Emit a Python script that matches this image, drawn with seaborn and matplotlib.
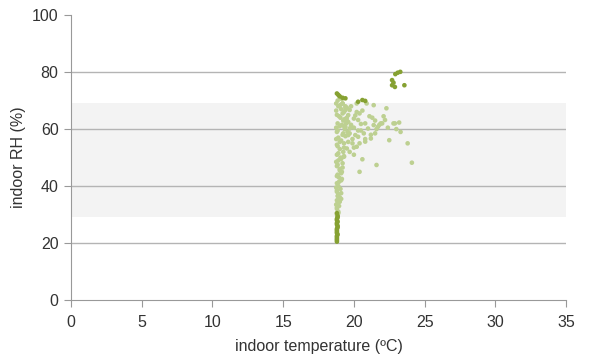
import matplotlib
matplotlib.use("Agg")
import matplotlib.pyplot as plt
import seaborn as sns
import pandas as pd

# ---- data ----
light_temp = [18.8, 18.9, 18.8, 18.95, 18.85, 18.8, 19.0, 18.9, 18.8, 19.05, 18.9, 18.8, 19.1, 18.95,
              18.85, 19.15, 19.0, 18.8, 19.2, 18.9, 19.05, 18.8, 19.25, 19.0, 18.85, 19.3, 19.1, 18.9,
              19.2, 18.8, 19.35, 19.0, 18.85, 19.25, 19.05, 18.8, 19.3, 19.1, 18.9, 19.2, 18.85, 19.0,
              18.75, 19.1, 18.75, 19.1, 18.75, 19.3, 18.75, 19.4, 18.75, 19.45, 18.75, 19.4, 18.75, 19.15,
              18.9, 18.8, 19.0, 18.85, 19.1, 18.8, 18.95, 19.15, 18.8, 19.0, 19.2, 18.85, 19.1, 18.9,
              19.3, 18.8, 19.0, 19.25, 18.85, 19.15, 19.35, 18.95, 19.2, 19.4, 19.05, 19.3, 19.5, 19.55,
              19.4, 19.7, 20.1, 20.3, 19.9, 20.2, 20.8, 21.2, 21.5, 21.7, 22.0, 22.9, 23.3, 22.5, 23.8,
              24.1, 21.6, 20.6, 20.4, 19.5, 19.3, 19.6, 20.7, 21.0, 21.4,
              19.4, 20.2, 20.9, 21.4, 22.3, 19.6, 20.0, 20.3, 20.8, 22.2, 22.8, 23.2, 19.2, 19.7,
              20.0, 20.4, 20.8, 21.2, 21.6, 21.9, 19.5, 19.8, 20.5, 21.1,
              19.6, 19.8, 20.0, 20.2, 19.7, 19.9, 20.1, 20.4, 20.6, 19.6, 19.8, 20.3, 20.5, 21.3,
              21.5, 21.8, 22.1, 22.4, 23.0, 19.5, 19.7, 20.0]
light_rh = [30, 31, 32, 33, 34, 35, 36, 37, 38, 39, 40, 41, 42, 43,
            44, 45, 46, 47, 48, 49, 50, 51, 52, 53, 54, 55, 56, 57,
            58, 59, 60, 61, 62, 63, 64, 65, 66, 67, 68, 69, 70, 71,
            33.5, 35.5, 39.5, 44.5, 48.5, 50.5, 56.5, 57.5, 60.5, 62, 66.5, 68, 69, 70.5,
            30.5, 32.5, 34.5, 36.5, 37.5, 38.5, 41.5, 42.5, 43.5, 45.5, 46.5, 47.5, 49.5, 51.5,
            53.5, 54.5, 55.5, 58.5, 59.5, 61.5, 63.5, 64.5, 65.5, 67.5, 68.5, 61.0, 63.0, 59.0,
            60.8, 60.2, 57.9, 57.3, 55.0, 53.8, 55.6, 56.7, 58.5, 60.8, 62.0, 62.0, 59.0, 56.1, 55.0,
            48.2, 47.4, 49.4, 45.0, 53.2, 50.3, 57.9, 58.5, 60.2, 61.4,
            66.7, 69.0, 69.0, 68.4, 67.3, 64.9, 63.7, 63.2, 62.0, 63.2, 62.0, 62.3, 69.0, 66.7,
            53.5, 55.0, 56.5, 58.0, 60.0, 62.0, 64.0, 61.5, 59.5, 64.5,
            62.5, 61.0, 60.5, 66.0, 58.5, 56.5, 64.8, 65.5, 66.5, 55.5, 68.0, 59.5, 61.8, 64.0,
            63.0, 61.5, 64.5, 60.5, 60.0, 67.5, 52.0, 51.0]

dark_temp = [18.8, 18.8, 18.8, 18.8, 18.8, 18.85, 18.8, 18.85, 18.8, 18.85, 18.8, 18.8, 18.85, 18.8,
             18.8, 18.85, 18.8, 18.8, 18.85, 18.8,
             18.8, 18.9, 19.0, 19.2, 19.4, 20.3, 20.6, 20.8,
             22.7, 22.7, 22.9, 22.93, 23.28, 23.57, 23.1, 22.8]
dark_rh = [20.5, 21.5, 22.5, 23.5, 24.5, 25.5, 26.5, 27.5, 28.5, 29.5, 21, 22, 23, 24,
           25, 26, 27, 28, 29, 30.5,
           72.5, 72, 71.5, 71, 70.8, 69.6, 70.2, 69.9,
           77.2, 75.4, 74.8, 79.3, 80.1, 75.4, 79.8, 76.3]

x_ticks = [0, 5, 10, 15, 20, 25, 30, 35]
y_ticks = [0, 20, 40, 60, 80, 100]
grid_vals = [20, 40, 60, 80]
band = (29, 69)

light = pd.DataFrame({"temp": light_temp, "rh": light_rh})
dark = pd.DataFrame({"temp": dark_temp, "rh": dark_rh})

sns.set_theme(style="white")
plt.rcParams["font.family"] = ["Liberation Sans", "DejaVu Sans"]

fig = plt.figure(figsize=(6.08, 3.61), dpi=100)
ax = fig.add_axes([0.1168, 0.169, 0.8142, 0.789])

ax.axhspan(band[0], band[1], color="#f3f3f3", zorder=0, lw=0)
for g in grid_vals:
    ax.axhline(g, color="#b4b4b4", lw=1.0, zorder=1)

sns.scatterplot(data=light, x="temp", y="rh", ax=ax, color="#bdd091", s=11,
                edgecolor="none", linewidth=0, zorder=3)
sns.scatterplot(data=dark, x="temp", y="rh", ax=ax, color="#86a132", s=11,
                edgecolor="none", linewidth=0, zorder=4)

ax.set_xlim(0, 35)
ax.set_ylim(0, 100)
ax.set_xticks(x_ticks)
ax.set_yticks(y_ticks)
ax.set_xticklabels([str(t) for t in x_ticks])
ax.set_yticklabels([str(t) for t in y_ticks])
ax.tick_params(axis="both", which="both", direction="out", length=5, width=0.8,
               color="#999999", labelsize=11.5, labelcolor="#333333", bottom=True, left=True)
ax.tick_params(axis="y", pad=4)
ax.tick_params(axis="x", pad=6)

for side in ["top", "right"]:
    ax.spines[side].set_visible(False)
for side in ["left", "bottom"]:
    ax.spines[side].set_color("#999999")
    ax.spines[side].set_linewidth(0.8)

ax.set_xlabel("indoor temperature (ºC)", fontsize=11.5, color="#333333", labelpad=6)
ax.set_ylabel("indoor RH (%)", fontsize=11.5, color="#333333", labelpad=4)

fig.savefig("out.png", dpi=100, facecolor="white")
